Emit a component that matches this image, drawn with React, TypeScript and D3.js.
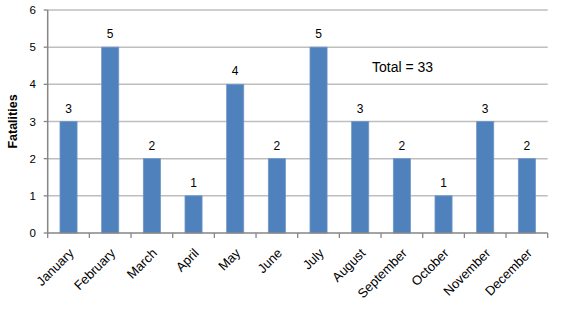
import React from "react";
import * as d3 from "d3";

const months = ["January","February","March","April","May","June","July","August","September","October","November","December"];
const fatalities = [3,5,2,1,4,2,5,3,2,1,3,2];
const yTicks = [0,1,2,3,4,5,6];
const totalLabel = "Total = 33";

export default function App() {
  const W = 562, H = 309;
  const left = 47.7, right = 547.7, top = 10, bottom = 233;
  const x = d3.scaleBand<string>().domain(months).range([left, right]).paddingInner(0.59).paddingOuter(0.295);
  const band = d3.scaleBand<string>().domain(months).range([left, right]);
  const y = d3.scaleLinear().domain([0, 6]).range([bottom, top]);
  const font = "'Liberation Sans', Arial, sans-serif";
  return (
    <svg width={W} height={H} style={{ position: "absolute", left: 0, top: 0, background: "#fff" }}>
      {yTicks.map(t => (
        <g key={t}>
          {t > 0 && <line x1={left} x2={right} y1={y(t)} y2={y(t)} stroke="#BEBEBE" strokeWidth={1.5} />}
          <line x1={left - 4} x2={left} y1={y(t)} y2={y(t)} stroke="#868686" strokeWidth={1.3} />
          <text x={36} y={y(t) + 4} textAnchor="end" fontSize={11.5} fontFamily={font} fill="#000">{t}</text>
        </g>
      ))}
      {months.map((m, i) => (
        <g key={m}>
          <rect x={x(m)!} y={y(fatalities[i])} width={x.bandwidth()} height={bottom - y(fatalities[i])} fill="#4F81BD" stroke="#6F97C8" strokeWidth={0.8} />
          <text x={x(m)! + x.bandwidth() / 2} y={y(fatalities[i]) - 9} textAnchor="middle" fontSize={12} fontFamily={font} fill="#000">{fatalities[i]}</text>
          <text transform={`translate(${band(m)! + band.bandwidth() / 2 + 6},${bottom + 21}) rotate(-45)`} textAnchor="end" fontSize={13} fontFamily={font} fill="#000">{m}</text>
        </g>
      ))}
      {months.concat([""]).map((_, i) => {
        const xx = left + i * band.bandwidth();
        return <line key={i} x1={xx} x2={xx} y1={bottom} y2={bottom + 5} stroke="#868686" strokeWidth={1.3} />;
      })}
      <line x1={left} x2={left} y1={top} y2={bottom} stroke="#868686" strokeWidth={1.5} />
      <line x1={left} x2={right} y1={bottom} y2={bottom} stroke="#868686" strokeWidth={1.5} />
      <text transform={`translate(17,${(top + bottom) / 2}) rotate(-90)`} textAnchor="middle" fontSize={12.5} fontWeight="bold" fontFamily={font} fill="#000">Fatalities</text>
      <text x={372} y={72} fontSize={14} fontFamily={font} fill="#000">{totalLabel}</text>
    </svg>
  );
}
